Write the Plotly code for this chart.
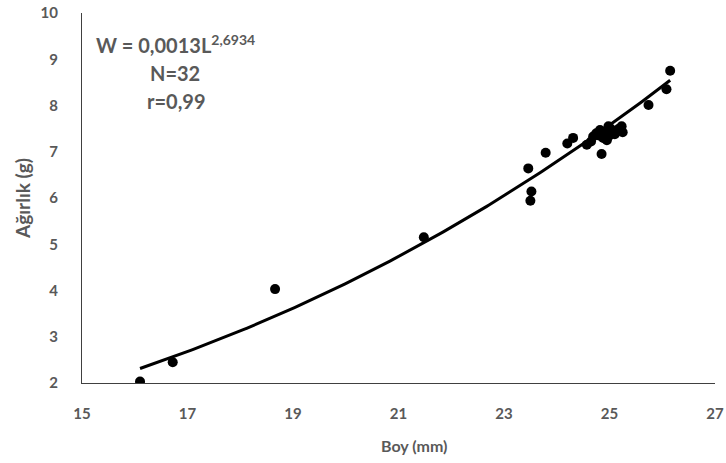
import numpy as np
import plotly.graph_objects as go

# Observed data (length mm, weight g)
boy_mm = [16.10, 16.72, 18.66, 21.48, 23.46, 23.52, 23.50, 23.79, 24.20, 24.31,
          24.57, 24.69, 24.82, 24.85, 24.98, 25.14, 25.23, 25.74, 26.08, 26.15,
          24.75, 24.88, 24.92, 25.00, 25.05, 24.95, 25.10, 25.25, 24.80, 25.02,
          24.65, 25.18]
agirlik_g = [2.03, 2.45, 4.03, 5.15, 6.64, 6.14, 5.94, 6.98, 7.18, 7.30,
             7.15, 7.33, 7.47, 6.95, 7.55, 7.45, 7.55, 8.01, 8.35, 8.75,
             7.40, 7.30, 7.40, 7.35, 7.45, 7.25, 7.38, 7.42, 7.35, 7.50,
             7.22, 7.50]

# Power trendline parameters shown on the chart
trend_a = 0.0013
trend_b = 2.6934

x_ticks = [15, 17, 19, 21, 23, 25, 27]
y_ticks = [2, 3, 4, 5, 6, 7, 8, 9, 10]

tx = np.linspace(min(boy_mm), max(boy_mm), 200)
ty = trend_a * tx ** trend_b

gray = "#595959"
font_family = "Lato"

W, H = 726, 463
L, R, T, B = 82, 11, 13, 80
pw = W - L - R
ph = H - T - B


def px2paper(sx, sy):
    return (sx - L) / pw, 1 - (sy - T) / ph


fig = go.Figure()
fig.add_trace(go.Scatter(x=tx, y=ty, mode="lines",
                         line=dict(color="black", width=3), showlegend=False))
fig.add_trace(go.Scatter(x=boy_mm, y=agirlik_g, mode="markers",
                         marker=dict(color="black", size=10), showlegend=False))

annotations = []
for text, (cx, cy) in [("<b>W = 0,0013L<sup>2,6934</sup></b>", (175, 44)),
                       ("<b>N=32</b>", (175, 73)),
                       ("<b>r=0,99</b>", (176, 101))]:
    ax, ay = px2paper(cx, cy)
    annotations.append(dict(x=ax, y=ay, xref="paper", yref="paper", showarrow=False,
                            xanchor="center", yanchor="middle", text=text,
                            font=dict(size=20, color=gray, family=font_family)))

# axis titles placed as annotations at measured positions
bx, by = px2paper(414, 445)
annotations.append(dict(x=bx, y=by, xref="paper", yref="paper", showarrow=False,
                        xanchor="center", yanchor="middle", text="<b>Boy (mm)</b>",
                        font=dict(size=16, color=gray, family=font_family)))
ax_, ay_ = px2paper(22, 199)
annotations.append(dict(x=ax_, y=ay_, xref="paper", yref="paper", showarrow=False,
                        xanchor="center", yanchor="middle", textangle=-90,
                        text="<b>Ağırlık (g)</b>",
                        font=dict(size=19, color=gray, family=font_family)))

fig.update_layout(
    width=W, height=H,
    margin=dict(l=L, r=R, t=T, b=B, autoexpand=False),
    paper_bgcolor="white", plot_bgcolor="white",
    font=dict(family=font_family, color=gray, size=15),
    xaxis=dict(range=[15, 27], tickvals=x_ticks, showgrid=False, zeroline=False,
               showline=True, linecolor="#404040", linewidth=1, ticks="",
               automargin=False, ticklabelstandoff=17,
               tickfont=dict(size=15, color=gray, family=font_family, weight="bold")),
    yaxis=dict(range=[2, 10], tickvals=y_ticks, showgrid=False, zeroline=False,
               showline=True, linecolor="#404040", linewidth=1, ticks="",
               automargin=False, ticklabelstandoff=20,
               tickfont=dict(size=15, color=gray, family=font_family, weight="bold")),
    annotations=annotations,
)

fig.write_html("out.html",
               config={"displayModeBar": False},
               post_script="document.body.style.margin='0';document.body.style.padding='0';")
